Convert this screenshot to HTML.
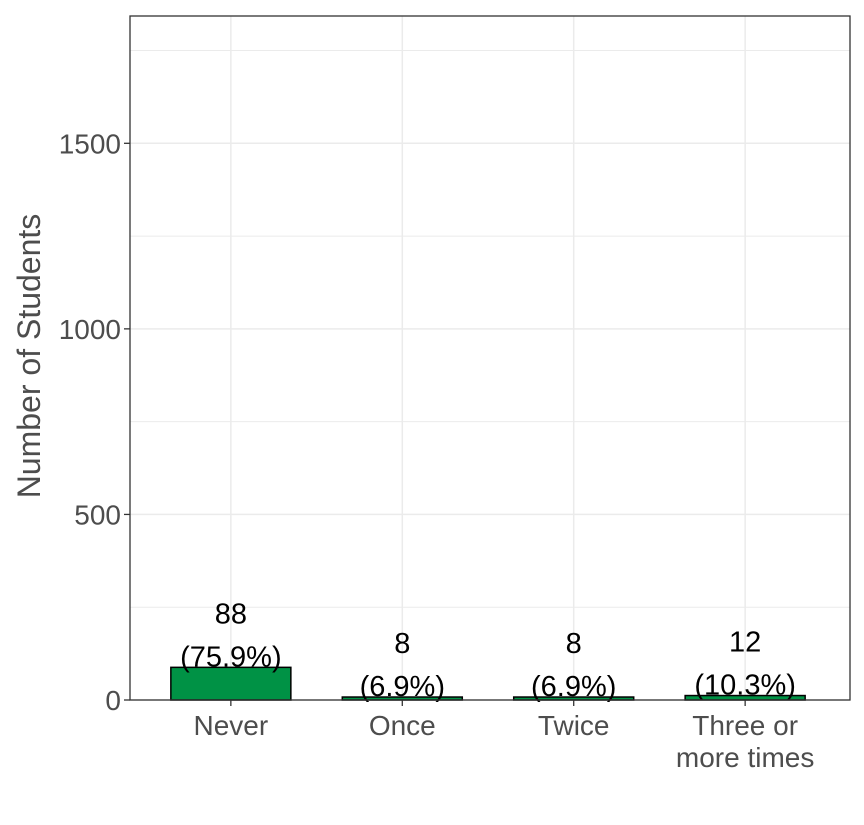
<!DOCTYPE html>
<html><head><meta charset="utf-8"><style>
html,body{margin:0;padding:0;background:#fff;}
svg{display:block;font-family:"Liberation Sans",Arial,sans-serif;}
</style></head><body>
<svg id="chart" width="864" height="825" viewBox="0 0 864 825"></svg>
<script>
const categories = ["Never","Once","Twice","Three or\nmore times"];
const counts = [88, 8, 8, 12];
const pctLabels = ["(75.9%)","(6.9%)","(6.9%)","(10.3%)"];
const yTicks = [0, 500, 1000, 1500];
const yMinor = [250, 750, 1250, 1750];

const NS = "http://www.w3.org/2000/svg";
const svg = document.getElementById("chart");
const L = 130, R = 850, T = 16, B = 700;
const yMax = 1843;
const y = v => B - v / yMax * (B - T);
const step = (R - L) / (categories.length - 1 + 1.2);
const x = i => L + step * (i + 0.6) - 2;
const barW = step * 0.7;

function el(tag, attrs, parent) {
  const e = document.createElementNS(NS, tag);
  for (const k in attrs) e.setAttribute(k, attrs[k]);
  (parent || svg).appendChild(e);
  return e;
}

yMinor.forEach(v => {
  const g = el("line", {x1: L, x2: R, y1: y(v), y2: y(v), stroke: "#ebebeb", "stroke-width": 1});
  
  
});
yTicks.forEach(v => {
  const g = el("line", {x1: L, x2: R, y1: y(v), y2: y(v), stroke: "#ebebeb", "stroke-width": 1.5});
  
  
});
categories.forEach((c, i) => {
  const g = el("line", {x1: x(i), x2: x(i), y1: T, y2: B, stroke: "#ebebeb", "stroke-width": 1.5});
  
  
});

counts.forEach((v, i) => {
  const b = el("rect", {x: x(i) - barW / 2, y: y(v), width: barW, height: B - y(v), fill: "#009245", stroke: "#000", "stroke-width": 1.5});
  
  
  const t1 = el("text", {x: x(i), y: y(v) - 44, "text-anchor": "middle", "font-size": 29, fill: "#000"});
  t1.textContent = String(v);
  
  
  const t2 = el("text", {x: x(i), y: y(v) - 1, "text-anchor": "middle", "font-size": 29, fill: "#000"});
  t2.textContent = pctLabels[i];
  
  
});

const border = el("rect", {x: L, y: T, width: R - L, height: B - T, fill: "none", stroke: "#333", "stroke-width": 1.3});



yTicks.forEach(v => {
  const tk = el("line", {x1: L - 6, x2: L, y1: y(v), y2: y(v), stroke: "#333", "stroke-width": 1.3});
  
  
  const t = el("text", {x: L - 9, y: y(v) + 10, "text-anchor": "end", "font-size": 28, fill: "#4d4d4d"});
  t.textContent = String(v);
  
  
});

categories.forEach((c, i) => {
  const tk = el("line", {x1: x(i), x2: x(i), y1: B, y2: B + 6, stroke: "#333", "stroke-width": 1.3});
  
  
  const t = el("text", {x: x(i), y: 735, "text-anchor": "middle", "font-size": 28, fill: "#4d4d4d"});
  
  
  c.split("\n").forEach((line, j) => {
    const s = el("tspan", {x: x(i), dy: j === 0 ? 0 : 32}, t);
    s.textContent = line;
  });
});

const yt = el("text", {x: 40, y: 356, transform: "rotate(-90 40 356)", "text-anchor": "middle", "font-size": 32, fill: "#4d4d4d"});
yt.textContent = "Number of Students";


</script>
</body></html>
